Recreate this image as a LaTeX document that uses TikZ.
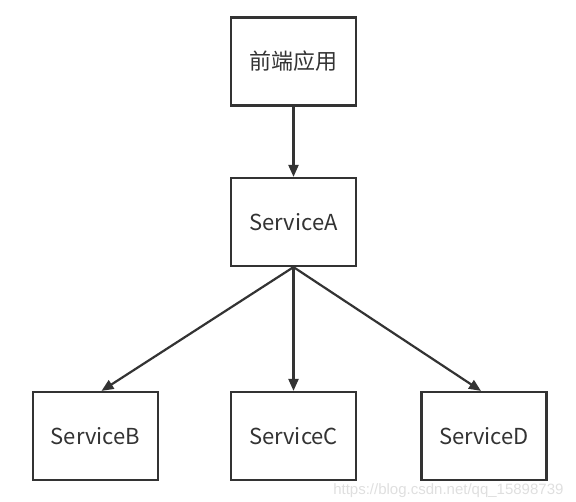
\documentclass[tikz,border=0pt]{standalone}
\usepackage{fontspec}
\setmainfont{Noto Sans CJK SC}
\newfontfamily\wmfont{Liberation Sans}
\usetikzlibrary{arrows.meta}
\definecolor{ink}{HTML}{333333}
\begin{document}
\begin{tikzpicture}[x=1pt,y=-1pt,
  svc/.style={draw=ink,line width=2.2pt,minimum width=125pt,minimum height=88pt,inner sep=0pt,
    text=ink,font=\fontsize{22}{26}\selectfont},
  flow/.style={draw=ink,line width=2.2pt,-{Triangle[length=12pt,width=10pt]}}]
\useasboundingbox (0,0) rectangle (576,501);
\node[svc] (fe) at (293.5,61.5) {前端应用};
\node[svc] (a) at (293.5,222) {ServiceA};
\node[svc] (b) at (95.5,436) {ServiceB};
\node[svc] (c) at (293.5,436) {ServiceC};
\node[svc] (d) at (484,436) {ServiceD};
\draw[flow] (fe.south) -- (a.north);
\draw[flow] (a.south) -- ([xshift=6pt]b.north);
\draw[flow] (a.south) -- (c.north);
\draw[flow] (a.south) -- ([xshift=-3pt]d.north);
\node[text=gray!25,font=\wmfont\fontsize{15}{18}\selectfont,anchor=base east] (wm) at (567,494) {https://blog.csdn.net/qq\_15898739};
\end{tikzpicture}
\end{document}
